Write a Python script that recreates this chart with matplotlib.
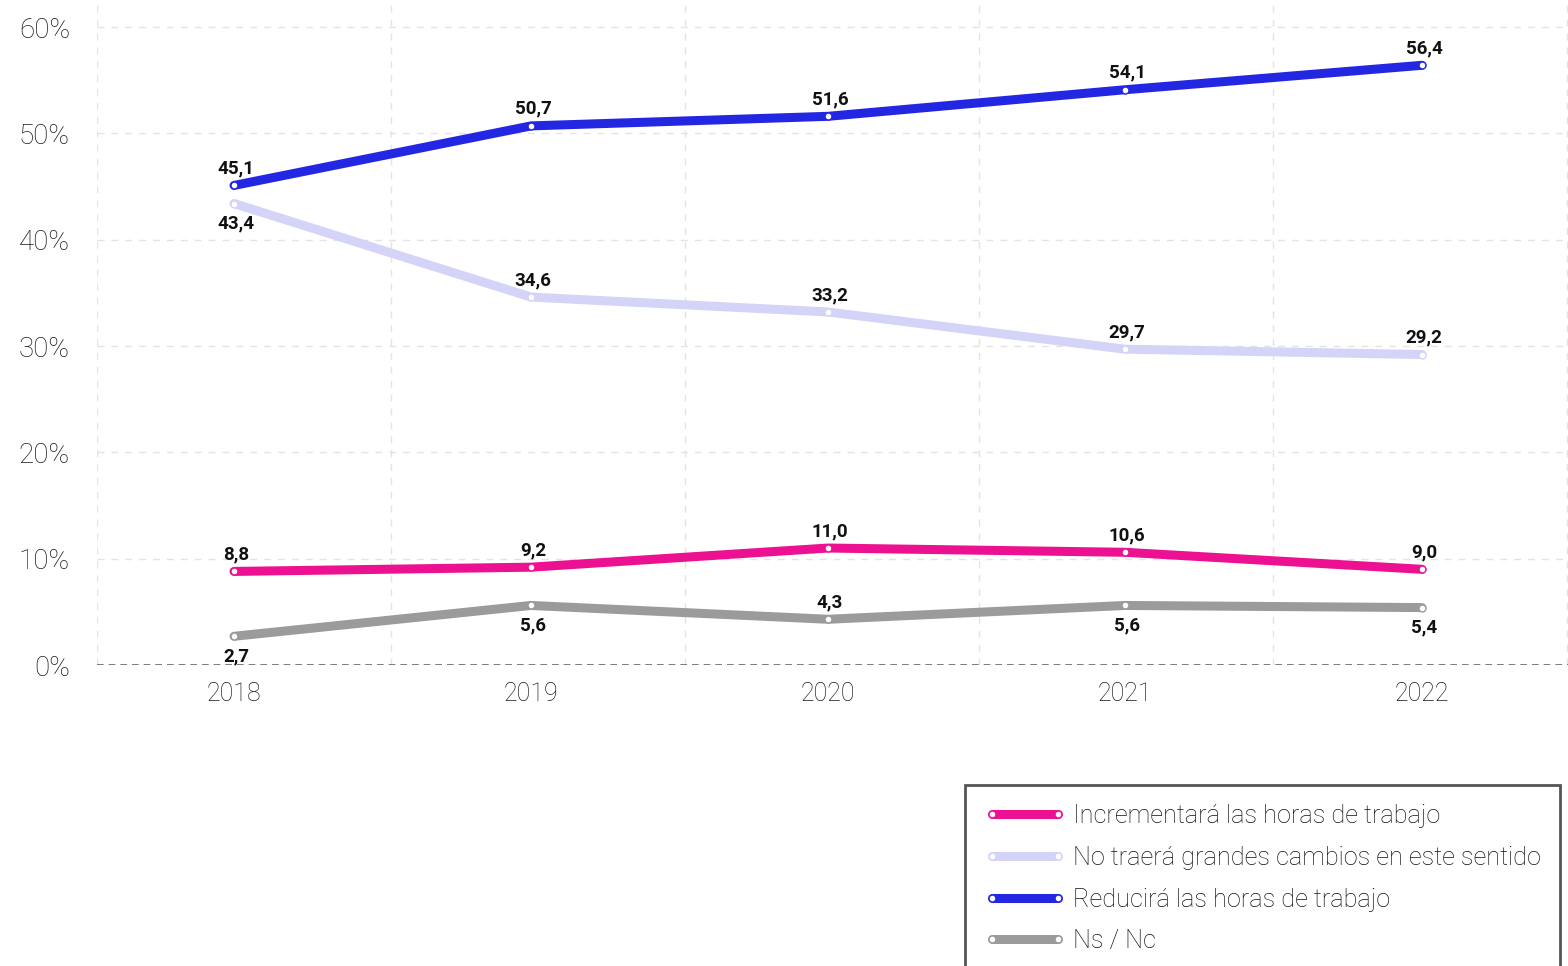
import numpy as np
import matplotlib.pyplot as plt

years = ["2018", "2019", "2020", "2021", "2022"]
incrementara = [8.8, 9.2, 11.0, 10.6, 9.0]
no_cambios = [43.4, 34.6, 33.2, 29.7, 29.2]
reducira = [45.1, 50.7, 51.6, 54.1, 56.4]
ns_nc = [2.7, 5.6, 4.3, 5.6, 5.4]

series_names = ["Incrementará las horas de trabajo",
                "No traerá grandes cambios en este sentido",
                "Reducirá las horas de trabajo",
                "Ns / Nc"]
y_ticks = [0, 10, 20, 30, 40, 50, 60]

plt.rcParams['font.family'] = ['Roboto', 'DejaVu Sans']

colors = ["#EC1190", "#D3D4F8", "#2427E2", "#9B9B9B"]
# +1 label above the point, -1 below
sides = [[1, 1, 1, 1, 1],
         [-1, 1, 1, 1, 1],
         [1, 1, 1, 1, 1],
         [-1, -1, 1, -1, -1]]

fig = plt.figure(figsize=(15.68, 9.66), dpi=100)
ax = fig.add_axes([97/1568, 1 - 665/966, 1 - 97/1568, (665 - 5)/966])

x = np.arange(len(years))
all_series = [incrementara, no_cambios, reducira, ns_nc]

# grid
x0, x1 = -0.4613, 4.4916
ax.set_xlim(x0, x1)
ax.set_ylim(0, 62.07)
ax.set_xticks(x0 + np.arange(6) * 0.9899, minor=True)
ax.set_xticks(x)
ax.set_xticklabels(years)
ax.set_yticks(y_ticks)
ax.set_yticklabels([f"{v}%" for v in y_ticks])
ax.grid(which='minor', axis='x', color='#e4e4e4', linestyle=(0, (5, 5)), linewidth=1)
ax.grid(which='major', axis='y', color='#e4e4e4', linestyle=(0, (5, 5)), linewidth=1)
ax.axhline(0, color='#666666', linestyle=(0, (4, 3)), linewidth=1.2, zorder=2)
for s in ax.spines.values():
    s.set_visible(False)
ax.tick_params(which='both', length=0)
ax.tick_params(axis='y', pad=19.5, labelsize=20, labelcolor='#1a1a1a')
ax.tick_params(axis='x', pad=12, labelsize=18, labelcolor='#1a1a1a')
for lab in ax.get_yticklabels() + ax.get_xticklabels():
    lab.set_fontweight('light')

order = [3, 0, 1, 2]
for i in order:
    vals = all_series[i]
    ax.plot(x, vals, color=colors[i], linewidth=6.5, solid_capstyle='round',
            marker='o', markersize=5, markerfacecolor='white',
            markeredgecolor=colors[i], markeredgewidth=1, label=series_names[i],
            zorder=3 + i)
    for xi, v, sd in zip(x, vals, sides[i]):
        off = 17 if sd > 0 else -20
        ax.annotate(f"{v:.1f}".replace(".", ","), (xi, v), xytext=(2, off),
                    textcoords='offset pixels', ha='center', va='center',
                    fontsize=13.5, fontweight='bold', color='#111111', zorder=10)

handles, labels = ax.get_legend_handles_labels()
hmap = dict(zip(labels, handles))
leg = fig.legend([hmap[n] for n in series_names], series_names,
                 loc='upper left', bbox_to_anchor=(965/1568, 1 - 785/966),
                 borderaxespad=0, numpoints=2, handlelength=3.2, handletextpad=0.31,
                 labelspacing=0.7, borderpad=0.76, fancybox=False, framealpha=1,
                 edgecolor='#555555', labelcolor='#111111',
                 prop={'weight': 'light', 'size': 18.2})
leg.get_frame().set_linewidth(2)

fig.savefig("out.png", dpi=100)
